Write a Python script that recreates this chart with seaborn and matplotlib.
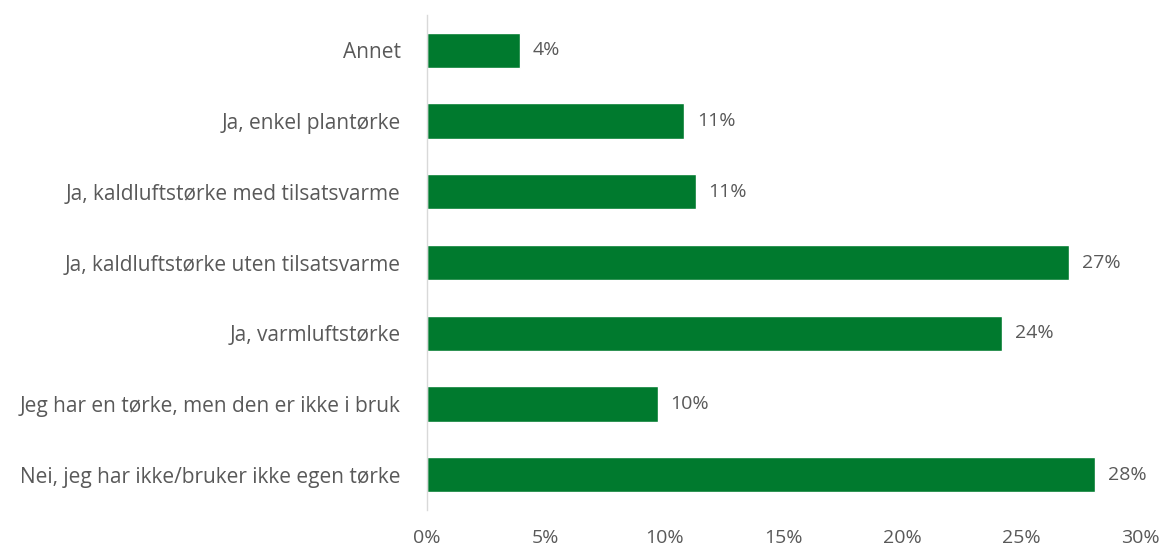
import matplotlib
matplotlib.use("Agg")
import matplotlib.pyplot as plt
import seaborn as sns
import pandas as pd

categories = [
    "Annet",
    "Ja, enkel plantørke",
    "Ja, kaldluftstørke med tilsatsvarme",
    "Ja, kaldluftstørke uten tilsatsvarme",
    "Ja, varmluftstørke",
    "Jeg har en tørke, men den er ikke i bruk",
    "Nei, jeg har ikke/bruker ikke egen tørke",
]
shares = [3.9, 10.8, 11.3, 27.0, 24.2, 9.7, 28.1]
xticks = [0, 5, 10, 15, 20, 25, 30]

sns.set_theme(style="white")
plt.rcParams["font.family"] = ["Open Sans", "DejaVu Sans"]

text_color = "#595959"
bar_color = "#007A2E"

df = pd.DataFrame({"kategori": categories, "andel": shares})

fig = plt.figure(figsize=(11.68, 5.49), dpi=100)
ax = fig.add_axes([0.3656, 0.071, 0.6104, 0.9017])

sns.barplot(data=df, x="andel", y="kategori", orient="h", color=bar_color,
            saturation=1, width=0.5, ax=ax)

for i, v in enumerate(shares):
    ax.text(v + 0.55, i, f"{v:.0f}%", va="center", ha="left",
            fontsize=14, color=text_color)

ax.set_xlim(0, 30)
ax.set_ylim(6.5, -0.5)
ax.set_xticks(xticks)
ax.set_xticklabels([f"{t}%" for t in xticks], fontsize=14, color=text_color)
ax.tick_params(axis="x", length=0, pad=14)
ax.tick_params(axis="y", length=0, pad=19, labelsize=15, labelcolor=text_color)
ax.set_xlabel("")
ax.set_ylabel("")

for side in ["top", "right", "bottom"]:
    ax.spines[side].set_visible(False)
ax.spines["left"].set_color("#D9D9D9")
ax.spines["left"].set_linewidth(1.0)

fig.savefig("out.png", dpi=100)
